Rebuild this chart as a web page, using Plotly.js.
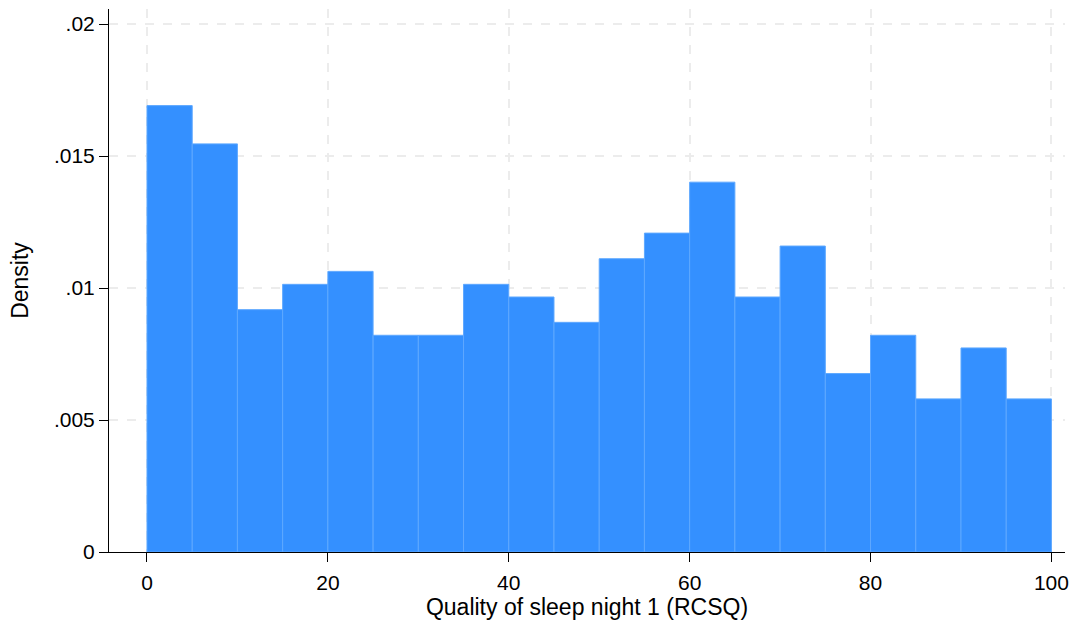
<!DOCTYPE html>
<html>
<head>
<meta charset="utf-8">
<script src="https://cdn.plot.ly/plotly-3.0.1.min.js"></script>
<style>html,body{margin:0;padding:0;background:#fff;}#chart{width:1075px;height:621px;}</style>
</head>
<body>
<div id="chart"></div>
<script>
// Bin starts (width 5) for "Quality of sleep night 1 (RCSQ)"
const binStarts = [0, 5, 10, 15, 20, 25, 30, 35, 40, 45, 50, 55, 60, 65, 70, 75, 80, 85, 90, 95];
const densities = [0.01691, 0.01546, 0.00918, 0.01014, 0.01063, 0.00821, 0.00821, 0.01014, 0.00966, 0.00870,
                   0.01111, 0.01208, 0.01401, 0.00966, 0.01159, 0.00676, 0.00821, 0.00580, 0.00773, 0.00580];
const xTickVals = [0, 20, 40, 60, 80, 100];
const xTickText = ["0", "20", "40", "60", "80", "100"];
const yTickVals = [0, 0.005, 0.01, 0.015, 0.02];
const yTickText = ["0", ".005", ".01", ".015", ".02"];

const font = "Liberation Sans, Arial, Helvetica, sans-serif";

const trace = {
  type: "bar",
  x: binStarts,
  y: densities,
  width: 5,
  offset: 0,
  marker: { color: "#3490ff", line: { color: "#5ea8ff", width: 1 } },
  hoverinfo: "x+y"
};

const layout = {
  width: 1075,
  height: 621,
  margin: { l: 109, r: 10, t: 9, b: 69 },
  paper_bgcolor: "#ffffff",
  plot_bgcolor: "#ffffff",
  showlegend: false,
  font: { family: font, size: 21, color: "#000" },
  xaxis: {
    range: [-4.2, 101.5],
    tickvals: xTickVals,
    ticktext: xTickText,
    ticks: "outside",
    ticklen: 9,
    tickwidth: 1,
    tickcolor: "#000",
    ticklabelstandoff: 3,
    showline: true,
    linecolor: "#000",
    linewidth: 1,
    showgrid: true,
    gridcolor: "#ececec",
    gridwidth: 2,
    griddash: "dash",
    zeroline: false,
    tickfont: { family: font, size: 21, color: "#000" },
    title: { text: "Quality of sleep night 1 (RCSQ)", font: { family: font, size: 23, color: "#000" }, standoff: 5 }
  },
  yaxis: {
    range: [0, 0.02057],
    tickvals: yTickVals,
    ticktext: yTickText,
    ticks: "outside",
    ticklen: 9,
    tickwidth: 1,
    tickcolor: "#000",
    showline: true,
    linecolor: "#000",
    linewidth: 1,
    showgrid: true,
    gridcolor: "#ececec",
    gridwidth: 2,
    griddash: "dash",
    zeroline: false,
    tickfont: { family: font, size: 21, color: "#000" },
    title: { text: "Density", font: { family: font, size: 23, color: "#000" }, standoff: 18 }
  },
  bargap: 0
};

Plotly.newPlot("chart", [trace], layout, { displayModeBar: false, staticPlot: true });
</script>
</body>
</html>
